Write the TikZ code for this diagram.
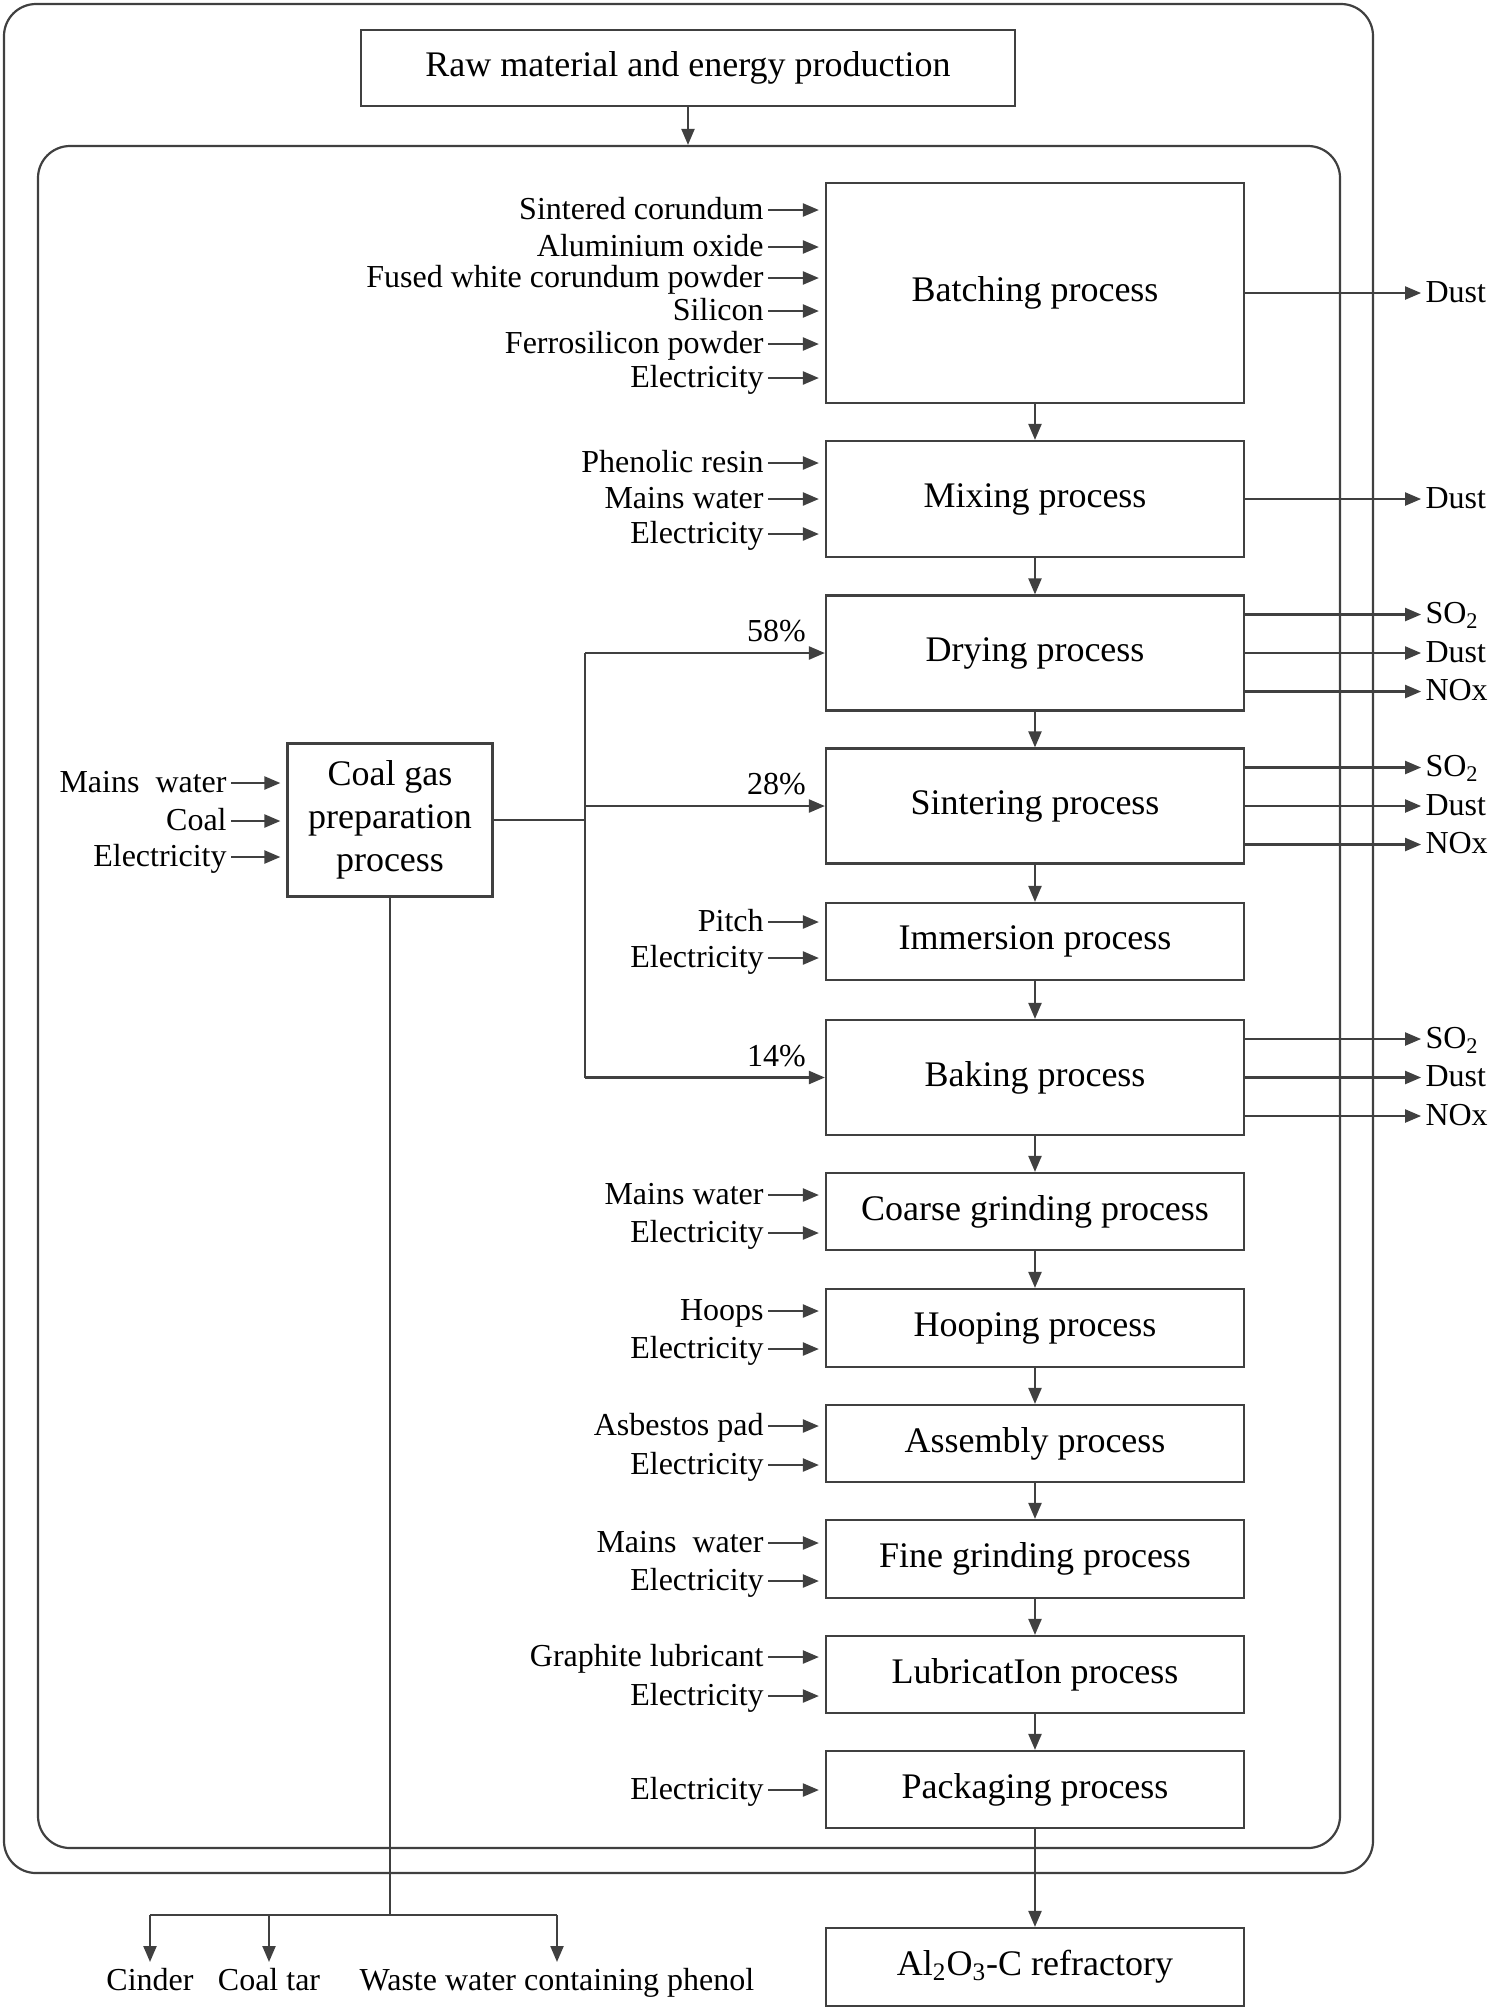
\documentclass[tikz,border=0pt]{standalone}
\usepackage{fontspec}
\setmainfont{Liberation Serif}
\usetikzlibrary{arrows.meta}

\tikzset{
  line/.style={draw=black!75, line width=1.1pt},
  arr/.style={line, -{Triangle[length=8pt,width=6.5pt]}},
  procbox/.style={line, minimum width=209pt, inner sep=2pt, align=center,
    font=\fontsize{18}{21.5}\selectfont},
  frame/.style={line, rounded corners=16pt, minimum width=0pt},
  inlbl/.style={inner sep=2pt, anchor=east, text height=12pt, text depth=3pt,
    font=\fontsize{16}{19}\selectfont},
  outlbl/.style={inlbl, anchor=west},
  botlbl/.style={inlbl, anchor=north},
  pct/.style={inlbl, anchor=south east, xshift=-7pt},
}

\begin{document}
\begin{tikzpicture}[x=0.5pt, y=-0.5pt]
\useasboundingbox (0,0) rectangle (1500,2010);

% Frames
\node[frame, minimum width=684.5pt, minimum height=934.5pt] (outer) at (688.5,938.5) {};
\node[frame, minimum width=651pt, minimum height=851pt] (inner) at (689,997) {};

\node[procbox, minimum width=327pt, minimum height=38pt] (raw) at (688,68) {Raw material and energy production};
\draw[arr] (raw.south) -- (raw.south |- inner.north);

% Process chain
\node[procbox, minimum height=110pt] (batch) at (1035,293) {Batching process};
\node[procbox, minimum height=58pt] (mix) at (1035,499) {Mixing process};
\node[procbox, minimum height=57.5pt] (dry) at (1035,653) {Drying process};
\node[procbox, minimum height=57.5pt] (sinter) at (1035,806) {Sintering process};
\node[procbox, minimum height=38.5pt] (imm) at (1035,941.5) {Immersion process};
\node[procbox, minimum height=57.5pt] (bake) at (1035,1077.5) {Baking process};
\node[procbox, minimum height=38.5pt] (coarse) at (1035,1211.5) {Coarse grinding process};
\node[procbox, minimum height=39pt] (hoop) at (1035,1328) {Hooping process};
\node[procbox, minimum height=38.5pt] (assem) at (1035,1443.5) {Assembly process};
\node[procbox, minimum height=39pt] (fine) at (1035,1559) {Fine grinding process};
\node[procbox, minimum height=38.5pt] (lub) at (1035,1674.5) {LubricatIon process};
\node[procbox, minimum height=38.5pt] (pack) at (1035,1789.5) {Packaging process};
\node[procbox, minimum height=39pt] (refr) at (1035,1967) {Al\textsubscript{2}O\textsubscript{3}-C refractory};

\foreach \a/\b in {batch/mix, mix/dry, dry/sinter, sinter/imm, imm/bake, bake/coarse,
                   coarse/hoop, hoop/assem, assem/fine, fine/lub, lub/pack, pack/refr}
  \draw[arr] (\a) -- (\b);

% Inputs
\foreach \dst/\inputs in {
    batch/{Sintered corundum/210, Aluminium oxide/247, Fused white corundum powder/278,
           Silicon/311, Ferrosilicon powder/344, Electricity/378},
    mix/{Phenolic resin/463, Mains water/499, Electricity/534},
    imm/{Pitch/922, Electricity/958},
    coarse/{Mains water/1195, Electricity/1233},
    hoop/{Hoops/1311, Electricity/1349},
    assem/{Asbestos pad/1426, Electricity/1465},
    fine/{Mains~ water/1543, Electricity/1581},
    lub/{Graphite lubricant/1657, Electricity/1696},
    pack/{Electricity/1790}} {
  \foreach \txt/\yy [count=\i] in \inputs {
    \node[inlbl] (\dst-in\i) at (768,\yy) {\txt};
    \draw[arr, shorten >=3pt] (\dst-in\i.east) -- (\dst-in\i.east -| \dst.west);
  }
}

% Emissions
\foreach \src in {batch, mix} {
  \path (\src.east) ++(176,0) node[outlbl] (\src-dust) {Dust};
  \draw[arr] (\src.east) -- (\src-dust.west);
}
\foreach \src in {dry, sinter, bake} {
  \foreach \txt/\dy [count=\i] in {SO\textsubscript{2}/-38.5, Dust/0, NOx/38.5} {
    \path (\src.east) ++(176,\dy) node[outlbl] (\src-out\i) {\txt};
    \draw[arr] (\src.east |- \src-out\i.west) -- (\src-out\i.west);
  }
}

% Coal gas
\node[procbox, minimum width=102.5pt, minimum height=76.5pt] (coal) at (390,820) {Coal gas\\preparation\\process};
\foreach \txt/\yy [count=\i] in {Mains~ water/783, Coal/821, Electricity/857} {
  \node[inlbl] (coal-in\i) at (231,\yy) {\txt};
  \draw[arr, shorten >=3pt] (coal-in\i.east) -- (coal-in\i.east -| coal.west);
}
\coordinate (split) at (585,820);
\draw[line] (coal.east) -- (split);
\draw[line] (split |- dry.west) -- (split |- bake.west);
\foreach \dst/\pc in {dry/58, sinter/28, bake/14}
  \draw[arr] (split |- \dst.west) -- (\dst.west) node[pct] (\dst-pct) {\pc\%};

% By-products
\coordinate (waste) at (390,1915);
\node[botlbl] (cinder) at (150,1962) {Cinder};
\node[botlbl] (tar) at (269,1962) {Coal tar};
\node[botlbl] (phenol) at (557,1962) {Waste water containing phenol};
\draw[line] (coal.south) -- (waste);
\draw[line] (cinder.north |- waste) -- (phenol.north |- waste);
\foreach \n in {cinder, tar, phenol}
  \draw[arr] (\n.north |- waste) -- (\n.north);
\end{tikzpicture}
\end{document}
